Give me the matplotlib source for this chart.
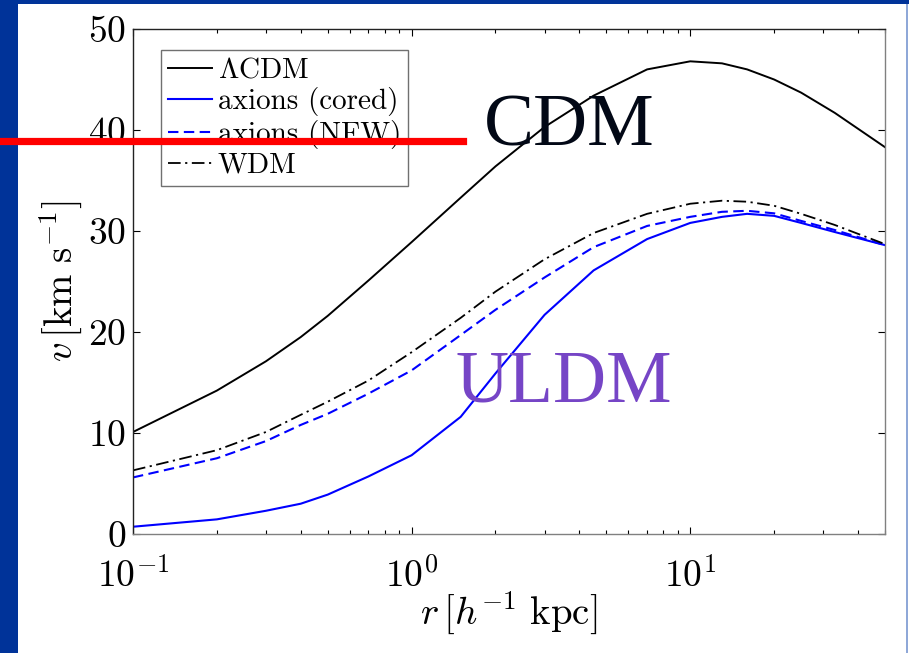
import numpy as np
import matplotlib
matplotlib.use("Agg")
import matplotlib.pyplot as plt
from matplotlib.patches import Rectangle
from matplotlib.lines import Line2D

plt.rcParams['mathtext.fontset'] = 'cm'
plt.rcParams['font.family'] = ['cmr10', 'DejaVu Serif']
plt.rcParams['axes.formatter.use_mathtext'] = True

# rotation curves, r in h^-1 kpc, v in km/s
r = [0.1, 0.2, 0.3, 0.4, 0.5, 0.7, 1.0, 1.5, 2, 3, 4.5, 7, 10, 13, 16, 20, 25, 33, 50]
v_lcdm = [10.1, 14.2, 17.1, 19.5, 21.6, 25.1, 28.9, 33.3, 36.4, 40.3, 43.4, 46.0,
          46.8, 46.6, 46.0, 45.0, 43.7, 41.7, 38.3]
v_cored = [0.72, 1.45, 2.3, 3.0, 3.9, 5.7, 7.8, 11.6, 15.9, 21.7, 26.1, 29.2,
           30.8, 31.4, 31.7, 31.5, 30.8, 29.9, 28.6]
v_nfw = [5.6, 7.5, 9.2, 10.8, 11.9, 13.9, 16.2, 19.7, 22.2, 25.4, 28.4, 30.5,
         31.4, 31.9, 32.0, 31.75, 31.0, 30.1, 28.6]
v_wdm = [6.3, 8.3, 10.1, 11.8, 13.1, 15.2, 18.0, 21.4, 24.0, 27.2, 29.8, 31.7,
         32.7, 33.0, 32.9, 32.5, 31.7, 30.6, 28.7]

labels = [r'$\Lambda$CDM', 'axions (cored)', 'axions (NFW)', 'WDM']

fig = plt.figure(figsize=(9.09, 6.53), dpi=100)
fig.patch.set_facecolor('white')

# slide frame
fig.patches.append(Rectangle((0, 0), 18 / 909, 1, transform=fig.transFigure,
                             facecolor='#003399', edgecolor='none', zorder=0))
fig.patches.append(Rectangle((0, 1 - 4 / 653), 1, 4 / 653, transform=fig.transFigure,
                             facecolor='#003399', edgecolor='none', zorder=0))
fig.patches.append(Rectangle((906 / 909, 0), 1.5 / 909, 1 - 4 / 653, transform=fig.transFigure,
                             facecolor='#8fa8d8', edgecolor='none', zorder=0))

ax = fig.add_axes([133 / 909, 1 - 534 / 653, 752 / 909, 505 / 653])
ax.plot(r, v_lcdm, color='black', lw=1.4, label=labels[0])
ax.plot(r, v_cored, color='#0000ff', lw=1.5, label=labels[1])
ax.plot(r, v_nfw, color='#0000ff', lw=1.5, dashes=(5, 2.6), label=labels[2])
ax.plot(r, v_wdm, color='black', lw=1.3, dashes=(7, 2.5, 1.2, 2.5), label=labels[3])

ax.set_xscale('log')
ax.set_xlim(0.1, 50)
ax.set_ylim(0, 50)
ax.set_yticks([0, 10, 20, 30, 40, 50])

ax.tick_params(which='both', direction='in', top=True, right=True, labelsize=27)
ax.tick_params(which='major', length=5, width=0.8)
ax.tick_params(which='minor', length=3, width=0.8)
ax.tick_params(axis='x', pad=17)
ax.tick_params(axis='y', pad=5)
for s in ['left', 'top']:
    ax.spines[s].set_color('#222222')
for s in ['right', 'bottom']:
    ax.spines[s].set_color('#808080')
for s in ax.spines.values():
    s.set_linewidth(1.0)

ax.set_xlabel(r'$r\,[h^{-1}\ \mathrm{kpc}]$', fontsize=28, labelpad=-3)
ax.set_ylabel(r'$v\,[\mathrm{km\ s}^{-1}]$', fontsize=28, labelpad=2)

leg = ax.legend(loc='upper left', bbox_to_anchor=(0.037, 0.958), borderaxespad=0,
                fontsize=21, frameon=True, fancybox=False, framealpha=1,
                edgecolor='#707070', handlelength=1.5, handletextpad=0.2,
                labelspacing=0.12, borderpad=0.25)
leg.get_frame().set_linewidth(1.0)

# slide annotations
fig.add_artist(Line2D([0, 463 / 909], [1 - 140.5 / 653, 1 - 140.5 / 653],
                      color='#ff0000', lw=5.2, transform=fig.transFigure))
fig.text(484 / 909, 1 - 145 / 653, 'CDM', family='Liberation Serif', fontsize=54,
         color='#020816', ha='left', va='baseline')
fig.text(456 / 909, 1 - 402 / 653, 'ULDM', family='Liberation Serif', fontsize=53,
         color='#7645c6', ha='left', va='baseline')

fig.savefig('out.png', dpi=100)
